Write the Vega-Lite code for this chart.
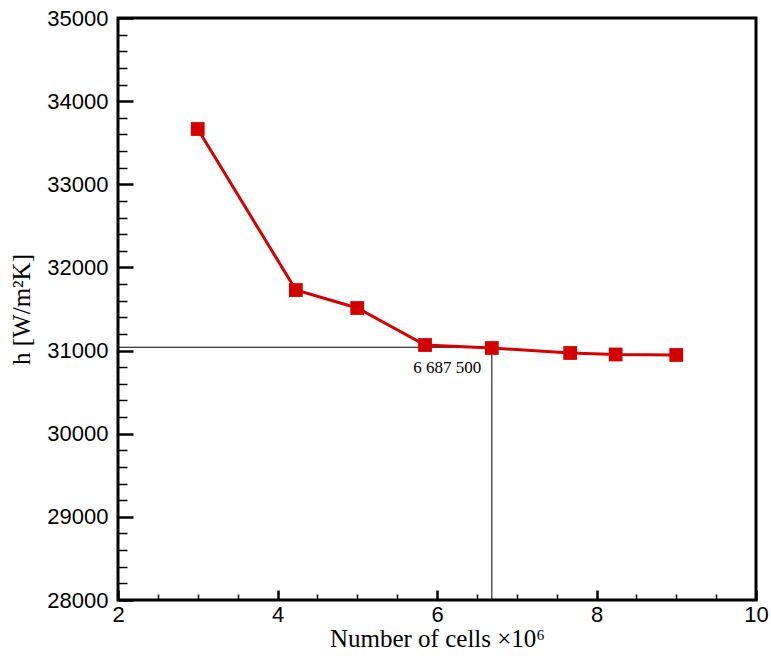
{
  "$schema": "https://vega.github.io/schema/vega-lite/v6.json",
  "width": 638,
  "height": 582,
  "autosize": {"type": "none"},
  "padding": {"left": 118, "top": 18, "right": 15, "bottom": 56},
  "background": "white",
  "config": {
    "view": {"stroke": "black", "strokeWidth": 3},
    "axis": {
      "domain": false,
      "grid": false,
      "tickColor": "black",
      "labelFont": "Liberation Sans",
      "labelFontSize": 22,
      "labelColor": "black",
      "labelOverlap": false,
      "labelFlush": false,
      "titleFont": "Liberation Serif",
      "titleFontSize": 25,
      "titleFontWeight": "normal",
      "titleColor": "black"
    }
  },
  "datasets": {
    "pts": [
      {"cells": 3.0, "h": 33665},
      {"cells": 4.23, "h": 31728},
      {"cells": 5.0, "h": 31512},
      {"cells": 5.85, "h": 31067},
      {"cells": 6.6875, "h": 31031},
      {"cells": 7.67, "h": 30971},
      {"cells": 8.24, "h": 30953},
      {"cells": 9.0, "h": 30947}
    ],
    "refs": [
      {"x1": 2, "x2": 6.6875, "y1": 31040, "y2": 31040},
      {"x1": 6.6875, "x2": 6.6875, "y1": 28000, "y2": 31040}
    ],
    "lbl": [
      {"cells": 6.13, "h": 30790, "text": "6 687 500"}
    ]
  },
  "layer": [
    {
      "data": {"name": "refs"},
      "mark": {"type": "rule", "color": "black", "strokeWidth": 1},
      "encoding": {
        "x": {"field": "x1", "type": "quantitative", "scale": {"domain": [2, 10], "nice": false, "zero": false},
          "axis": {
            "title": "Number of cells ×10⁶",
            "tickCount": 100,
            "values": [2, 2.5, 3, 3.5, 4, 4.5, 5, 5.5, 6, 6.5, 7, 7.5, 8, 8.5, 9, 9.5, 10],
            "labelExpr": "datum.value % 2 === 0 ? format(datum.value, 'd') : ''",
            "tickSize": {"condition": {"test": "datum.value % 2 === 0", "value": -10}, "value": -6},
            "tickWidth": {"condition": {"test": "datum.value % 2 === 0", "value": 2.5}, "value": 1.5},
            "labelPadding": 14,
            "titlePadding": -3
          }},
        "x2": {"field": "x2"},
        "y": {"field": "y1", "type": "quantitative", "scale": {"domain": [28000, 35000], "nice": false, "zero": false},
          "axis": {
            "title": "h [W/m²K]",
            "tickCount": 100,
            "values": [28000, 28200, 28400, 28600, 28800, 29000, 29200, 29400, 29600, 29800, 30000, 30200, 30400, 30600, 30800, 31000, 31200, 31400, 31600, 31800, 32000, 32200, 32400, 32600, 32800, 33000, 33200, 33400, 33600, 33800, 34000, 34200, 34400, 34600, 34800, 35000],
            "labelExpr": "datum.value % 1000 === 0 ? format(datum.value, 'd') : ''",
            "tickSize": {"condition": {"test": "datum.value % 1000 === 0", "value": -15}, "value": -9},
            "tickWidth": {"condition": {"test": "datum.value % 1000 === 0", "value": 2.5}, "value": 1.5},
            "labelPadding": 25,
            "titlePadding": 12
          }},
        "y2": {"field": "y2"}
      }
    },
    {
      "data": {"name": "pts"},
      "mark": {"type": "line", "color": "#D40000", "strokeWidth": 3},
      "encoding": {
        "x": {"field": "cells", "type": "quantitative"},
        "y": {"field": "h", "type": "quantitative"}
      }
    },
    {
      "data": {"name": "pts"},
      "mark": {"type": "point", "shape": "square", "filled": true, "color": "#D40000", "size": 190, "opacity": 1},
      "encoding": {
        "x": {"field": "cells", "type": "quantitative"},
        "y": {"field": "h", "type": "quantitative"}
      }
    },
    {
      "data": {"name": "lbl"},
      "mark": {"type": "text", "font": "Liberation Serif", "fontSize": 17, "color": "black", "align": "center", "baseline": "middle"},
      "encoding": {
        "x": {"field": "cells", "type": "quantitative"},
        "y": {"field": "h", "type": "quantitative"},
        "text": {"field": "text"}
      }
    }
  ]
}
